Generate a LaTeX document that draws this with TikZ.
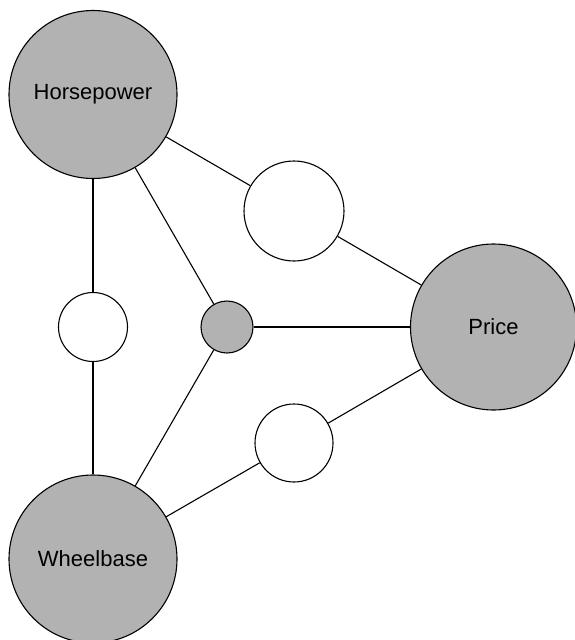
\documentclass[tikz,border=0pt]{standalone}
\usepackage{fontspec}
\setmainfont{Liberation Sans}
\tikzset{
    var/.style={circle, draw, line width=1.1pt, fill=black!30, inner sep=0pt,
                minimum size=168pt, font=\fontsize{22}{26}\selectfont},
    link/.style={circle, draw, line width=1.1pt, fill=white, inner sep=0pt},
    hub/.style={link, fill=black!30, minimum size=52pt},
    edge/.style={line width=1.1pt},
}
\begin{document}
\begin{tikzpicture}[x=1pt, y=-1pt]

    \useasboundingbox (0,0) rectangle (574,640);
    \node[var] (horsepower) at (93,94.5) {Horsepower};
    \node[var, minimum size=166pt] (price) at (493.5,327) {Price};
    \node[var] (wheelbase) at (93,559) {Wheelbase};
    \node[link, minimum size=100pt] (hp-price) at (294,211) {};
    \node[link, minimum size=69pt] (hp-wb) at (93,327) {};
    \node[link, minimum size=78pt] (wb-price) at (294,443) {};
    \node[hub] (center) at (227,327) {};
    \draw[edge] (horsepower) -- (hp-price);
    \draw[edge] (hp-price) -- (price);
    \draw[edge] (horsepower) -- (hp-wb);
    \draw[edge] (hp-wb) -- (wheelbase);
    \draw[edge] (wheelbase) -- (wb-price);
    \draw[edge] (wb-price) -- (price);
    \draw[edge] (horsepower) -- (center);
    \draw[edge] (wheelbase) -- (center);
    \draw[edge] (center) -- (price);

\end{tikzpicture}
\end{document}
